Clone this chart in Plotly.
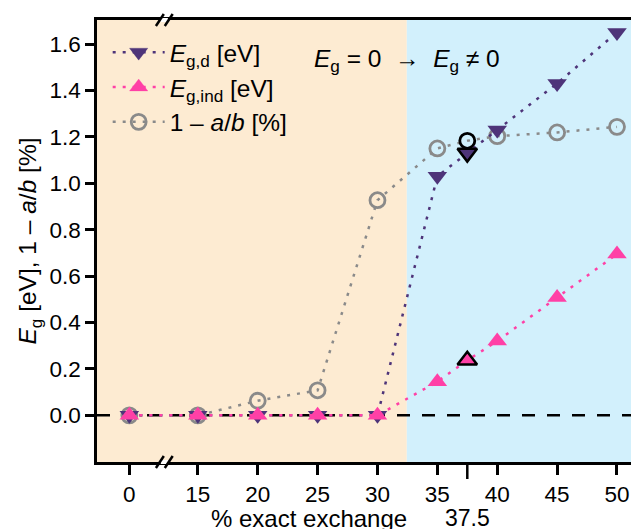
import plotly.graph_objects as go

# ---------------- data ----------------
x_pct = [0, 15, 20, 25, 30, 35, 37.5, 40, 45, 50]
eg_direct = [0, 0, 0, 0, 0, 1.03, 1.13, 1.23, 1.43, 1.65]
eg_indirect = [0, 0, 0, 0, 0, 0.145, 0.237, 0.32, 0.508, 0.695]
one_minus_ab = [0, 0, 0.063, 0.108, 0.927, 1.15, 1.183, 1.203, 1.219, 1.243]
highlight_x = 37.5

x_tick_vals = [0, 15, 20, 25, 30, 35, 40, 45, 50]
x_tick_text = ["0", "15", "20", "25", "30", "35", "40", "45", "50"]
y_tick_vals = [0, 0.2, 0.4, 0.6, 0.8, 1.0, 1.2, 1.4, 1.6]

metal_limit = 32.45      # boundary between Eg = 0 and Eg != 0 regions

# axis break: 0 is displayed closer to 15
BREAK_POS_ZERO = 9.28
def xpos(v):
    return BREAK_POS_ZERO if v == 0 else v

X_RANGE = [6.58, 51.17]
Y_RANGE = [-0.201, 1.7035]

PURPLE = "#4e3479"
PINK = "#ff40a6"
GRAY = "#8a8a8a"
ORANGE_BG = "#fdebd2"
BLUE_BG = "#d2f0fc"
FONT = "Arial, Liberation Sans, sans-serif"
FS = 22.5
FS_BIG = 24.5
DOT = "3px,7px"

xs = [xpos(v) for v in x_pct]
is_hl = [v == highlight_x for v in x_pct]

fig = go.Figure()

# gray open circles (bottom)
fig.add_trace(go.Scatter(
    x=xs, y=one_minus_ab, mode="lines+markers",
    name="1 \u2013 <i>a</i>/<i>b</i> [%]",
    line=dict(color=GRAY, width=2.5, dash=DOT),
    marker=dict(symbol="circle-open", size=15,
                color=["black" if h else GRAY for h in is_hl],
                line=dict(width=2.8)),
    legendrank=3, legendgroup="c",
))
# purple down triangles
fig.add_trace(go.Scatter(
    x=xs, y=eg_direct, mode="lines+markers",
    name="<i>E</i><sub>g,d</sub> [eV]",
    line=dict(color=PURPLE, width=2.5, dash=DOT),
    marker=dict(symbol="triangle-down", size=17, color=PURPLE,
                line=dict(color=["black" if h else PURPLE for h in is_hl],
                          width=[2.5 if h else 0 for h in is_hl])),
    legendrank=1, legendgroup="a",
))
# pink up triangles
fig.add_trace(go.Scatter(
    x=xs, y=eg_indirect, mode="lines+markers",
    name="<i>E</i><sub>g,ind</sub> [eV]",
    line=dict(color=PINK, width=2.5, dash=DOT),
    marker=dict(symbol="triangle-up", size=17, color=PINK,
                line=dict(color=["black" if h else PINK for h in is_hl],
                          width=[2.5 if h else 0 for h in is_hl])),
    legendrank=2, legendgroup="b",
))

shapes = [
    dict(type="rect", xref="x", yref="paper", x0=X_RANGE[0], x1=metal_limit,
         y0=0, y1=1, fillcolor=ORANGE_BG, line=dict(width=0), layer="below"),
    dict(type="rect", xref="x", yref="paper", x0=metal_limit, x1=X_RANGE[1],
         y0=0, y1=1, fillcolor=BLUE_BG, line=dict(width=0), layer="below"),
    dict(type="line", xref="paper", yref="y", x0=0, x1=1, y0=0, y1=0,
         line=dict(color="black", width=2.5, dash="13px,12px"), layer="below"),
    # long tick at 37.5
    dict(type="line", xref="x", yref="paper", x0=highlight_x, x1=highlight_x,
         y0=0, y1=-17 / 442, line=dict(color="black", width=2.5), layer="above"),
]
# axis-break marks (top and bottom)
xb = 12.2
dx = 0.3
for yb in (0, 1):
    shapes.append(dict(type="line", xref="x", yref="paper", x0=xb - dx, x1=xb + dx,
                       y0=yb, y1=yb, line=dict(color="white", width=4), layer="above"))
    for off in (-0.37, 0.37):
        shapes.append(dict(type="line", xref="x", yref="paper",
                           x0=xb + off - 0.33, x1=xb + off + 0.33,
                           y0=yb - 6 / 442, y1=yb + 6 / 442,
                           line=dict(color="black", width=2.5), layer="above"))

annotations = [
    dict(text="<i>E</i><sub>g</sub> = 0  \u2192  <i>E</i><sub>g</sub> \u2260 0",
         x=metal_limit, xref="x", y=1 - 40 / 442, yref="paper",
         showarrow=False, font=dict(size=FS_BIG, color="black"),
         xanchor="center", yanchor="middle"),
    dict(text="37.5", x=highlight_x, xref="x", y=-56 / 442, yref="paper",
         showarrow=False, font=dict(size=23, color="black"),
         xanchor="center", yanchor="middle"),
    dict(text="% exact exchange", x=24.27, xref="x", y=-56 / 442, yref="paper",
         showarrow=False, font=dict(size=24, color="black"),
         xanchor="center", yanchor="middle"),
]

fig.update_layout(
    width=631, height=529,
    margin=dict(l=97, r=0, t=20, b=67),
    paper_bgcolor="white", plot_bgcolor="white",
    font=dict(family=FONT, size=FS, color="black"),
    shapes=shapes, annotations=annotations,
    legend=dict(x=0.02, y=0.978, xanchor="left", yanchor="top",
                bgcolor="rgba(0,0,0,0)", font=dict(size=FS_BIG),
                traceorder="grouped", tracegroupgap=0, itemwidth=52),
    showlegend=True,
)
fig.update_xaxes(
    range=X_RANGE, tickvals=[xpos(v) for v in x_tick_vals], ticktext=x_tick_text,
    ticks="outside", ticklen=10, tickwidth=2.5, tickcolor="black",
    showline=True, linewidth=2.5, linecolor="black", mirror=True,
    showgrid=False, zeroline=False, tickfont=dict(size=FS),
)
fig.update_yaxes(
    range=Y_RANGE, tickvals=y_tick_vals, tickformat=".1f",
    ticks="outside", ticklen=9, tickwidth=2.5, tickcolor="black",
    showline=True, linewidth=2.5, linecolor="black", mirror=False,
    showgrid=False, zeroline=False, tickfont=dict(size=FS),
    title=dict(text="<i>E</i><sub>g</sub> [eV], 1 \u2013 <i>a</i>/<i>b</i> [%]",
               font=dict(size=FS_BIG), standoff=6),
)

fig.write_html("out.html", config={"displayModeBar": False},
               post_script="document.body.style.margin='0px';document.body.style.overflow='hidden';")
